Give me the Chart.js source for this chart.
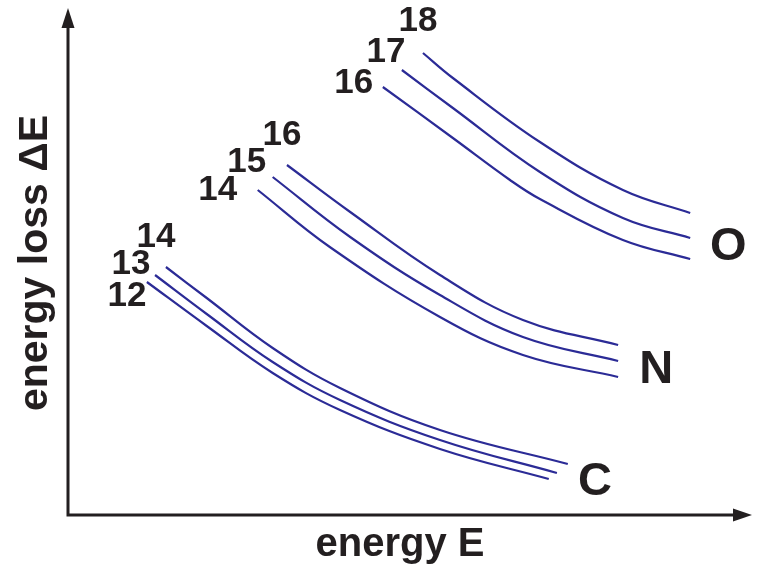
<!DOCTYPE html>
<html>
<head>
<meta charset="utf-8">
<script src="https://cdn.jsdelivr.net/npm/chart.js@4"></script>
<style>
  html, body { margin: 0; padding: 0; background: #fff; }
  #wrap { width: 762px; height: 571px; position: relative; }
</style>
</head>
<body>
<div id="wrap"><canvas id="chart"></canvas></div>
<script>
// Energy-loss curves (arbitrary units): [energy E, energy loss ΔE]
const carbon12 = [[11.6, 46.6], [20.4, 37.8], [30.1, 28.4], [40.0, 21.0], [54.7, 13.2], [70.7, 7.2]];
const carbon13 = [[12.8, 48.0], [20.4, 40.2], [30.1, 30.6], [40.0, 23.0], [54.7, 15.0], [71.9, 8.4]];
const carbon14 = [[14.4, 49.6], [20.4, 43.4], [30.1, 33.4], [40.0, 25.4], [54.7, 17.0], [73.5, 10.2]];

const nitrogen14 = [[27.9, 65.0], [38.5, 53.6], [54.7, 39.6], [66.9, 32.0], [80.9, 27.6]];
const nitrogen15 = [[30.1, 67.6], [41.5, 55.6], [54.7, 44.0], [66.9, 35.6], [80.9, 30.8]];
const nitrogen16 = [[32.2, 70.0], [41.5, 60.6], [54.7, 48.0], [66.9, 39.0], [80.9, 34.0]];

const oxygen16 = [[46.3, 85.6], [56.6, 75.4], [65.0, 67.0], [69.4, 63.2], [81.6, 55.0], [91.5, 51.2]];
const oxygen17 = [[49.1, 89.0], [56.6, 81.4], [69.4, 68.6], [81.6, 59.4], [91.5, 55.4]];
const oxygen18 = [[52.2, 92.4], [56.6, 87.4], [69.4, 74.6], [81.6, 65.0], [91.5, 60.4]];

const elements = ['C', 'N', 'O'];
const massNumbers = [[12, 13, 14], [14, 15, 16], [16, 17, 18]];
const curves = [[carbon12, carbon13, carbon14], [nitrogen14, nitrogen15, nitrogen16], [oxygen16, oxygen17, oxygen18]];

const xTitle = 'energy E';
const yTitle = 'energy loss \u0394E';

// label offsets (pixels) from each curve's first point
const massLabelOffsets = [
  [[-20, 14], [-24, -11], [-10, -30]],
  [[-40, 0], [-26, -15], [-5, -30]],
  [[-29, -4], [-16, -18], [-5, -32]]
];

const LINE = '#2b2b96';
const INK = '#231f20';
const FONT = '"Liberation Sans", Arial, Helvetica, sans-serif';

const datasets = [];
curves.forEach((group, gi) => {
  group.forEach((pts, ii) => {
    datasets.push({
      label: elements[gi] + massNumbers[gi][ii],
      data: pts.map(p => ({ x: p[0], y: p[1] })),
      showLine: true,
      borderColor: LINE,
      borderWidth: 2.2,
      pointRadius: 0,
      fill: false,
      tension: 0.4
    });
  });
});

const decor = {
  id: 'decor',
  afterDatasetsDraw(chart) {
    const { ctx, chartArea: a, scales: { x, y } } = chart;
    ctx.save();

    // axes with arrowheads
    ctx.strokeStyle = INK;
    ctx.fillStyle = INK;
    ctx.lineWidth = 3;
    ctx.beginPath();
    ctx.moveTo(a.left, a.bottom + 1.5);
    ctx.lineTo(a.left, a.top + 10);
    ctx.moveTo(a.left - 1.5, a.bottom);
    ctx.lineTo(a.right - 10, a.bottom);
    ctx.stroke();

    ctx.beginPath();
    ctx.moveTo(a.left, a.top - 7);
    ctx.lineTo(a.left - 6.5, a.top + 13);
    ctx.lineTo(a.left + 6.5, a.top + 13);
    ctx.closePath();
    ctx.fill();

    ctx.beginPath();
    ctx.moveTo(a.right + 4, a.bottom);
    ctx.lineTo(a.right - 15, a.bottom - 6.5);
    ctx.lineTo(a.right - 15, a.bottom + 6.5);
    ctx.closePath();
    ctx.fill();

    // mass-number labels at curve starts
    ctx.textAlign = 'center';
    ctx.textBaseline = 'middle';
    ctx.font = 'bold 35px ' + FONT;
    curves.forEach((group, gi) => {
      group.forEach((pts, ii) => {
        const px = x.getPixelForValue(pts[0][0]);
        const py = y.getPixelForValue(pts[0][1]);
        const off = massLabelOffsets[gi][ii];
        ctx.fillText(String(massNumbers[gi][ii]), px + off[0], py + off[1]);
      });
    });

    // element symbols at the end of each group
    ctx.font = 'bold 47px ' + FONT;
    curves.forEach((group, gi) => {
      const mid = group[1];
      const last = mid[mid.length - 1];
      const px = x.getPixelForValue(last[0]);
      const py = y.getPixelForValue(last[1]);
      ctx.fillText(elements[gi], px + 38, py + 9);
    });

    // axis titles
    ctx.font = 'bold 40px ' + FONT;
    ctx.fillText(xTitle, 400, 545);
    ctx.translate(36, 263);
    ctx.rotate(-Math.PI / 2);
    ctx.font = 'bold 41px ' + FONT;
    ctx.fillText(yTitle, 0, 0);

    ctx.restore();
  }
};

new Chart(document.getElementById('chart'), {
  type: 'scatter',
  data: { datasets },
  options: {
    responsive: true,
    maintainAspectRatio: false,
    animation: false,
    layout: { padding: { left: 68, right: 14, top: 15, bottom: 56 } },
    plugins: { legend: { display: false }, tooltip: { enabled: false } },
    scales: {
      x: { type: 'linear', min: 0, max: 100, display: false },
      y: { type: 'linear', min: 0, max: 100, display: false }
    }
  },
  plugins: [decor]
});
</script>
</body>
</html>
